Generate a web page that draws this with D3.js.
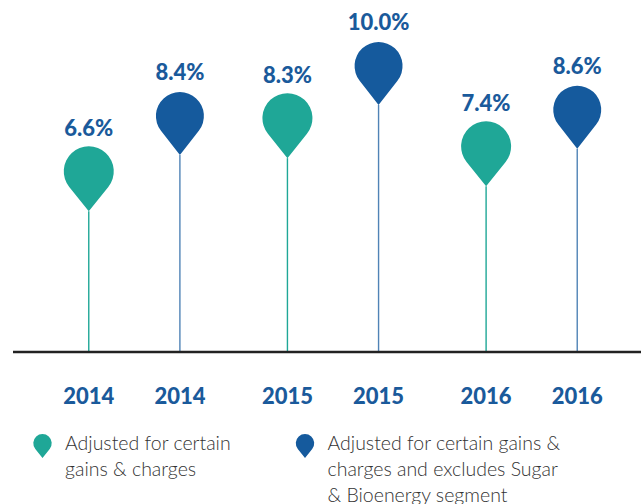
<!DOCTYPE html>
<html lang="en">
<head>
  <meta charset="UTF-8">
  <title>Adjusted margin pins</title>
  <script src="https://d3js.org/d3.v7.min.js"></script>
  <style>
    body {
      margin: 0;
      background: #fff;
      font-family: Lato, "Open Sans", Arial, sans-serif;
    }
    .value, .year {
      font-weight: 900;
      font-size: 22px;
      fill: #1a5a9b;
    }
    .legend-text {
      font-weight: 300;
      font-size: 19.5px;
      fill: #333;
    }
  </style>
</head>
<body>
  <svg width="641" height="504"></svg>

  <script>
    // data
    const years = ["2014", "2015", "2016"];
    const series = ["gains", "excl"];
    const gainsValues = [6.6, 8.3, 7.4];
    const exclValues = [8.4, 10.0, 8.6];
    const legendLabels = [
      ["Adjusted for certain", "gains & charges"],
      ["Adjusted for certain gains &", "charges and excludes Sugar", "& Bioenergy segment"]
    ];
    const colors = { gains: "#1fa797", excl: "#155a9d" };

    const rows = [];
    years.forEach((yr, i) => {
      rows.push({ year: yr, key: "gains", value: gainsValues[i] });
      rows.push({ year: yr, key: "excl", value: exclValues[i] });
    });

    const svg = d3.select("svg");
    const baseY = 352;

    const x0 = d3.scaleBand().domain(years).range([35, 631]);
    const x1 = d3.scalePoint().domain(series).range([0, x0.bandwidth()]).padding(0.59);
    const y = d3.scaleLinear().domain([2.1, 10]).range([baseY, 105]);

    const xPos = d => x0(d.year) + x1(d.key);

    // teardrop pin with its tip at (0,0)
    function pinPath(r, d) {
      const phi = Math.acos(r / d);
      const sx = r * Math.sin(phi), sy = -d + r * Math.cos(phi);
      return `M0,0 L${-sx},${sy} A${r},${r} 0 1 1 ${sx},${sy} Z`;
    }

    // stems
    svg.selectAll(".stem")
      .data(rows)
      .enter()
      .append("line")
      .attr("x1", xPos)
      .attr("x2", xPos)
      .attr("y1", d => y(d.value))
      .attr("y2", baseY)
      .attr("stroke", d => colors[d.key])
      .attr("stroke-opacity", d => d.key === "excl" ? 0.75 : 1)
      .attr("stroke-width", 1.4);

    // baseline
    svg.append("line")
      .attr("x1", 13).attr("x2", 641)
      .attr("y1", baseY).attr("y2", baseY)
      .attr("stroke", "#222")
      .attr("stroke-width", 2.5);

    // pins
    svg.selectAll(".pin")
      .data(rows)
      .enter()
      .append("path")
      .attr("transform", d => `translate(${xPos(d)},${y(d.value)})`)
      .attr("d", d => d.key === "gains" ? pinPath(25, 40) : pinPath(24, 39))
      .attr("fill", d => colors[d.key]);

    // value labels
    svg.selectAll(".value")
      .data(rows)
      .enter()
      .append("text")
      .attr("class", "value")
      .attr("x", xPos)
      .attr("y", d => y(d.value) - 75)
      .attr("text-anchor", "middle")
      .text(d => d.value.toFixed(1) + "%");

    // year labels
    svg.selectAll(".year")
      .data(rows)
      .enter()
      .append("text")
      .attr("class", "year")
      .attr("x", xPos)
      .attr("y", 404)
      .attr("text-anchor", "middle")
      .text(d => d.year);

    // legend
    const legendX = [42.5, 305];
    series.forEach((key, i) => {
      const g = svg.append("g").attr("transform", `translate(${legendX[i]},0)`);
      g.append("path")
        .attr("transform", "translate(0,458)")
        .attr("d", pinPath(9.2, 14.8))
        .attr("fill", colors[key]);
      g.selectAll("text")
        .data(legendLabels[i])
        .enter()
        .append("text")
        .attr("class", "legend-text")
        .attr("x", 22.5)
        .attr("y", (t, j) => 449.5 + j * 26)
        .text(t => t);
    });
  </script>
</body>
</html>
